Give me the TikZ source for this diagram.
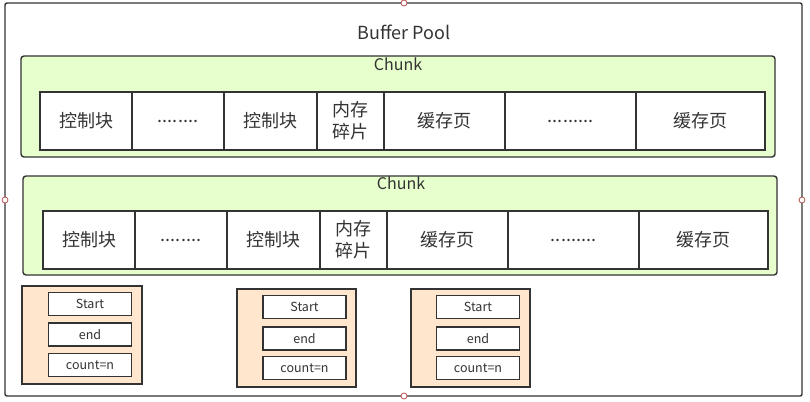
\documentclass[tikz,border=0pt]{standalone}
\usepackage{fontspec}
\setmainfont{Noto Sans CJK SC}
\usepackage{xcolor}
\definecolor{chunkgreen}{HTML}{E6FFCC}
\definecolor{listpeach}{HTML}{FFE6CC}
\definecolor{linegray}{HTML}{333333}
\definecolor{handlered}{HTML}{B85450}

\begin{document}
\begin{tikzpicture}[x=1pt,y=-1pt,
  every node/.style={text=linegray},
  cell/.style={draw=linegray,line width=1.6pt,fill=white,inner sep=0pt,
               font=\fontsize{18}{22}\selectfont,align=center},
  chunkbox/.style={draw=linegray,line width=1.4pt,fill=chunkgreen,rounded corners=3pt},
  listbox/.style={draw=linegray,line width=1.4pt,fill=listpeach},
  field/.style={draw=linegray,line width=1.6pt,fill=white,minimum width=83pt,
                minimum height=23pt,inner sep=0pt,font=\fontsize{12.5}{14}\selectfont},
  handle/.style={circle,draw=handlered,fill=white,line width=0.8pt,minimum size=6pt,inner sep=0pt}]
  \useasboundingbox (0,0) rectangle (810,401);
  %% buffer pool
  \draw[draw=linegray,line width=1.4pt,rounded corners=2pt] (5,3) rectangle (802,396);
  \node[font=\fontsize{18}{20}\selectfont] (pool) at (404,32) {Buffer Pool};
  %% first chunk
  \draw[chunkbox] (21,56) rectangle (775,157);
  \node[font=\fontsize{16}{18}\selectfont] (chunkA) at (398,64) {Chunk};
  \node[cell,minimum width=92pt,minimum height=58pt]  (a1) at (86,121)    {控制块};
  \node[cell,minimum width=92pt,minimum height=58pt]  (a2) at (178,121)   {........};
  \node[cell,minimum width=93pt,minimum height=58pt]  (a3) at (270.5,121) {控制块};
  \node[cell,minimum width=67pt,minimum height=58pt]  (a4) at (350.5,121) {内存\\碎片};
  \node[cell,minimum width=121pt,minimum height=58pt] (a5) at (444.5,121) {缓存页};
  \node[cell,minimum width=131pt,minimum height=58pt] (a6) at (570.5,121) {.........};
  \node[cell,minimum width=129pt,minimum height=58pt] (a7) at (700.5,121) {缓存页};
  %% second chunk
  \draw[chunkbox] (23,176) rectangle (777,275);
  \node[font=\fontsize{16}{18}\selectfont] (chunkB) at (401,183) {Chunk};
  \node[cell,minimum width=92pt,minimum height=58pt]  (b1) at (89,240)    {控制块};
  \node[cell,minimum width=92pt,minimum height=58pt]  (b2) at (181,240)   {........};
  \node[cell,minimum width=93pt,minimum height=58pt]  (b3) at (273.5,240) {控制块};
  \node[cell,minimum width=67pt,minimum height=58pt]  (b4) at (353.5,240) {内存\\碎片};
  \node[cell,minimum width=121pt,minimum height=58pt] (b5) at (447.5,240) {缓存页};
  \node[cell,minimum width=131pt,minimum height=58pt] (b6) at (573.5,240) {.........};
  \node[cell,minimum width=129pt,minimum height=58pt] (b7) at (703.5,240) {缓存页};
  %% free lists
  \draw[listbox] (22,286) rectangle (142,384);
  \node[field] (startA) at (90,304)   {Start};
  \node[field] (endA)   at (90,334.5) {end};
  \node[field] (countA) at (90,365)   {count=n};
  \draw[listbox] (237,289) rectangle (356,387);
  \node[field] (startB) at (304.5,307) {Start};
  \node[field] (endB)   at (304.5,338.5) {end};
  \node[field] (countB) at (304.5,368) {count=n};
  \draw[listbox] (411,289) rectangle (530,387);
  \node[field] (startC) at (478,307)   {Start};
  \node[field] (endC)   at (478,338.5) {end};
  \node[field] (countC) at (478,368)   {count=n};
  %% selection handles
  \node[handle] (hTop)    at (404,3)   {};
  \node[handle] (hLeft)   at (5,200)   {};
  \node[handle] (hRight)  at (802,200) {};
  \node[handle] (hBottom) at (404,396) {};
\end{tikzpicture}
\end{document}
